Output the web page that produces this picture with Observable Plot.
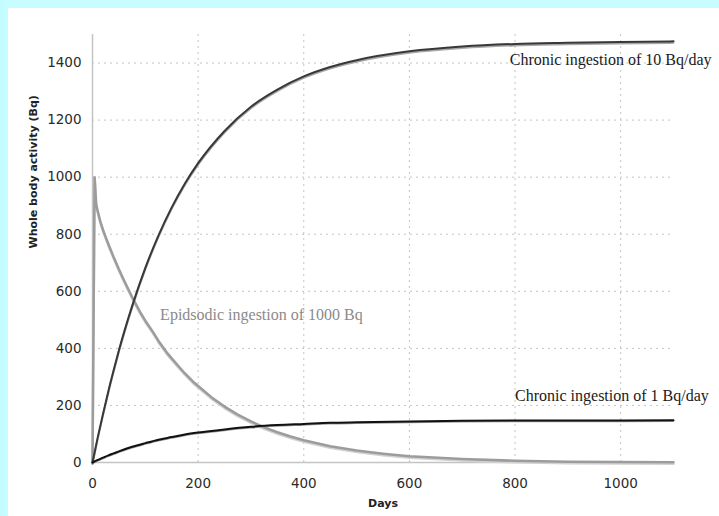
<!DOCTYPE html>
<html>
<head>
<meta charset="utf-8">
<script src="https://cdn.jsdelivr.net/npm/d3@7"></script>
<script src="https://cdn.jsdelivr.net/npm/@observablehq/plot@0.6"></script>
<style>
  html, body { margin: 0; padding: 0; }
  body { width: 719px; height: 516px; overflow: hidden;
         background: linear-gradient(to right, #c2fbff 0px, #c8fdff 8px); }
  #panel { position: absolute; left: 8px; top: 8px; width: 711px; height: 508px; background: #ffffff; }
  #panel svg { display: block; }
</style>
</head>
<body>
<div id="panel"></div>
<script>
// Days sampled for the chronic-ingestion curves
const chronicDays = [0, 10, 20, 30, 40, 50, 75, 100, 125, 150, 175, 200, 250, 300, 350, 400, 450, 500, 600, 700, 800, 900, 1000, 1100];
// Whole body activity (Bq), chronic ingestion of 10 Bq/day
const chronic10 = [0, 89, 171, 250, 323, 393, 548, 682, 796, 894, 978, 1049, 1162, 1247, 1307, 1353, 1386, 1410, 1441, 1458, 1467, 1471, 1474, 1476];
// Whole body activity (Bq), chronic ingestion of 1 Bq/day
const chronic1 = [0, 9, 17, 25, 32, 39, 55, 68, 80, 89, 98, 105, 116, 125, 131, 135, 139, 141, 144, 146, 147, 147, 147, 148];

// Days sampled for the episodic ingestion curve
const episodicDays = [0, 4, 7, 10, 15, 20, 25, 30, 40, 50, 60, 75, 90, 100, 115, 125, 140, 150, 165, 175, 190, 200, 225, 250, 275, 300, 325, 350, 375, 400, 450, 500, 550, 600, 700, 800, 900, 1000, 1100];
// Whole body activity (Bq), episodic ingestion of 1000 Bq
const episodic = [0, 1000, 905, 880, 843, 815, 790, 766, 720, 677, 637, 580, 528, 497, 456, 426, 387, 365, 333, 312, 284, 268, 229, 196, 168, 144, 123, 106, 91, 78, 57, 42, 31, 22, 12, 6, 3, 2, 1];

// Tick values
const xTicks = [0, 200, 400, 600, 800, 1000];
const yTicks = [0, 200, 400, 600, 800, 1000, 1200, 1400];

// Series labels and where they sit (data units)
const labelText = ["Chronic ingestion of 10 Bq/day", "Chronic ingestion of 1 Bq/day", "Epidsodic ingestion of 1000 Bq"];
const labelDay = [790, 800, 128];
const labelValue = [1410, 235, 516];
const labelColor = ["#1a1a1a", "#1a1a1a", "#8a8a8a"];

const c10 = chronicDays.map((d, i) => ({day: d, value: chronic10[i]}));
const c1 = chronicDays.map((d, i) => ({day: d, value: chronic1[i]}));
const ep = episodicDays.map((d, i) => ({day: d, value: episodic[i]}));
const labels = labelText.map((t, i) => ({text: t, day: labelDay[i], value: labelValue[i], color: labelColor[i]}));

const sans = "'DejaVu Sans', Verdana, sans-serif";
const serif = "'Liberation Serif', 'Times New Roman', serif";
const fmt = d3.format("d");

const chart = Plot.plot({
  width: 711,
  height: 508,
  marginLeft: 84,
  marginRight: 46,
  marginTop: 26,
  marginBottom: 54,
  style: {background: "#ffffff", fontFamily: sans, fontSize: "13.5px", color: "#2a2a2a"},
  x: {domain: [0, 1100]},
  y: {domain: [0, 1500]},
  marks: [
    Plot.gridX(xTicks.filter(d => d > 0), {stroke: "#c4c4c4", strokeOpacity: 1, strokeDasharray: "2,4"}),
    Plot.gridY(yTicks.filter(d => d > 0), {stroke: "#c4c4c4", strokeOpacity: 1, strokeDasharray: "2,4"}),
    Plot.ruleX([0], {stroke: "#c4c4c4", strokeWidth: 1.5}),
    Plot.ruleY([0], {stroke: "#c4c4c4", strokeWidth: 1.5}),
    Plot.axisX(xTicks, {tickSize: 0, tickPadding: 16, fontSize: 13.5, fill: "#2a2a2a", label: null, tickFormat: fmt}),
    Plot.axisY(yTicks, {tickSize: 0, tickPadding: 11, fontSize: 13.5, fill: "#2a2a2a", label: null, tickFormat: fmt}),
    // soft shadows under the lines
    Plot.line(ep, {x: "day", y: "value", stroke: "#d2d2d2", strokeWidth: 2.5, dy: 1.5, curve: "linear"}),
    Plot.line(c10, {x: "day", y: "value", stroke: "#a8a8a8", strokeWidth: 2, dy: 1.5, curve: "monotone-x"}),
    Plot.line(c1, {x: "day", y: "value", stroke: "#9a9a9a", strokeWidth: 1.5, dy: 1, curve: "monotone-x"}),
    // main lines
    Plot.line(ep, {x: "day", y: "value", stroke: "#9c9c9c", strokeWidth: 2.5, curve: "linear"}),
    Plot.line(c10, {x: "day", y: "value", stroke: "#383838", strokeWidth: 2, curve: "monotone-x"}),
    Plot.line(c1, {x: "day", y: "value", stroke: "#111111", strokeWidth: 2, curve: "monotone-x"}),
    Plot.text(labels, {x: "day", y: "value", text: "text", fill: "color", textAnchor: "start", fontSize: 16, fontFamily: serif}),
    Plot.text(["Days"], {frameAnchor: "bottom", dy: 44, fontSize: 11, fontWeight: "bold", fill: "#222"}),
    Plot.text(["Whole body activity (Bq)"], {frameAnchor: "left", dx: -59, rotate: -90, fontSize: 11, fontWeight: "bold", fill: "#222"})
  ]
});
document.getElementById("panel").appendChild(chart);
</script>
</body>
</html>
